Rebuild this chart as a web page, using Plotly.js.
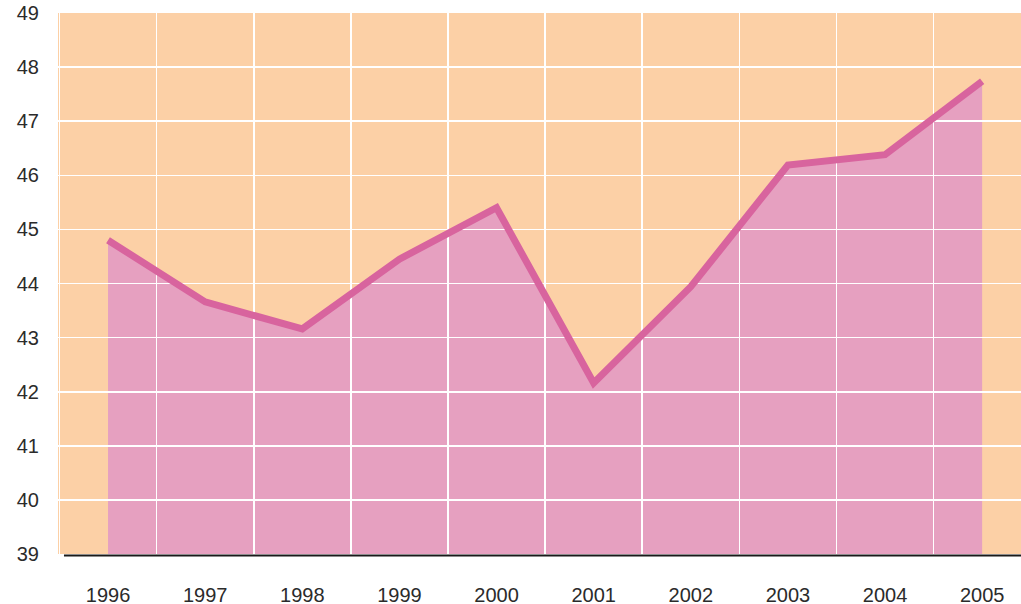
<!DOCTYPE html>
<html>
<head>
<meta charset="utf-8">
<script src="https://cdn.plot.ly/plotly-3.0.1.min.js"></script>
<style>html,body{margin:0;padding:0;background:#fff;}#chart{width:1021px;height:604px;}</style>
</head>
<body>
<div id="chart"></div>
<script>
// Data
const years = [1996, 1997, 1998, 1999, 2000, 2001, 2002, 2003, 2004, 2005];
const values = [44.80, 43.66, 43.16, 44.45, 45.40, 42.16, 43.94, 46.19, 46.38, 47.74];
const yTicks = [39, 40, 41, 42, 43, 44, 45, 46, 47, 48, 49];
const yGrid = [40, 41, 42, 43, 44, 45, 46, 47, 48];

const xRange = [1995.485, 2005.40];
const yRange = [39, 49];
const font = {family: 'Liberation Sans, Arial, sans-serif', size: 20, color: '#2b2b2b'};

const traces = [
  { // filled area (lower subplot, below gridlines)
    x: years, y: values, xaxis: 'x', yaxis: 'y',
    type: 'scatter', mode: 'lines', fill: 'tozeroy',
    fillcolor: '#E6A0C0', line: {color: 'rgba(0,0,0,0)', width: 0},
    hoverinfo: 'skip', showlegend: false
  },
  { // line (upper subplot, above gridlines)
    x: years, y: values, xaxis: 'x2', yaxis: 'y2',
    type: 'scatter', mode: 'lines',
    line: {color: '#D8649E', width: 7},
    showlegend: false
  }
];

const layout = {
  width: 1021, height: 604,
  margin: {l: 58, r: 0, t: 13, b: 50},
  paper_bgcolor: '#ffffff',
  plot_bgcolor: 'rgba(0,0,0,0)',
  font: font,
  showlegend: false,
  xaxis: {
    range: xRange, domain: [0, 1], anchor: 'y',
    tickmode: 'array', tickvals: years, ticktext: years.map(String),
    showgrid: false, zeroline: false, showline: false, ticks: '',
    ticklabelstandoff: 27, tickfont: font
  },
  yaxis: {
    range: yRange, domain: [0, 1], anchor: 'x',
    tickmode: 'array', tickvals: yTicks, ticktext: yTicks.map(String),
    showgrid: false, zeroline: false, showline: false, ticks: '',
    ticklabelstandoff: 18, tickfont: font
  },
  xaxis2: {
    range: xRange, domain: [0, 1], anchor: 'y2',
    tickmode: 'linear', tick0: 1996.5, dtick: 1,
    showgrid: true, gridcolor: '#ffffff', gridwidth: 1.6,
    showticklabels: false, zeroline: false, showline: false, ticks: ''
  },
  yaxis2: {
    range: yRange, domain: [0, 1], anchor: 'x2',
    tickmode: 'array', tickvals: yGrid,
    showgrid: true, gridcolor: '#ffffff', gridwidth: 1.6,
    showticklabels: false, zeroline: false, showline: false, ticks: ''
  },
  shapes: [
    { // peach plot background
      type: 'rect', xref: 'paper', yref: 'paper', x0: 0, x1: 1, y0: 0, y1: 1,
      fillcolor: '#FCD0A6', line: {width: 0}, layer: 'below'
    },
    { // bottom axis line
      type: 'line', xref: 'paper', yref: 'paper', x0: 0.0062, x1: 1, y0: -0.003, y1: -0.003,
      line: {color: '#1a1a1a', width: 2}, layer: 'above'
    }
  ]
};

Plotly.newPlot('chart', traces, layout, {displayModeBar: false, staticPlot: true});
</script>
</body>
</html>
